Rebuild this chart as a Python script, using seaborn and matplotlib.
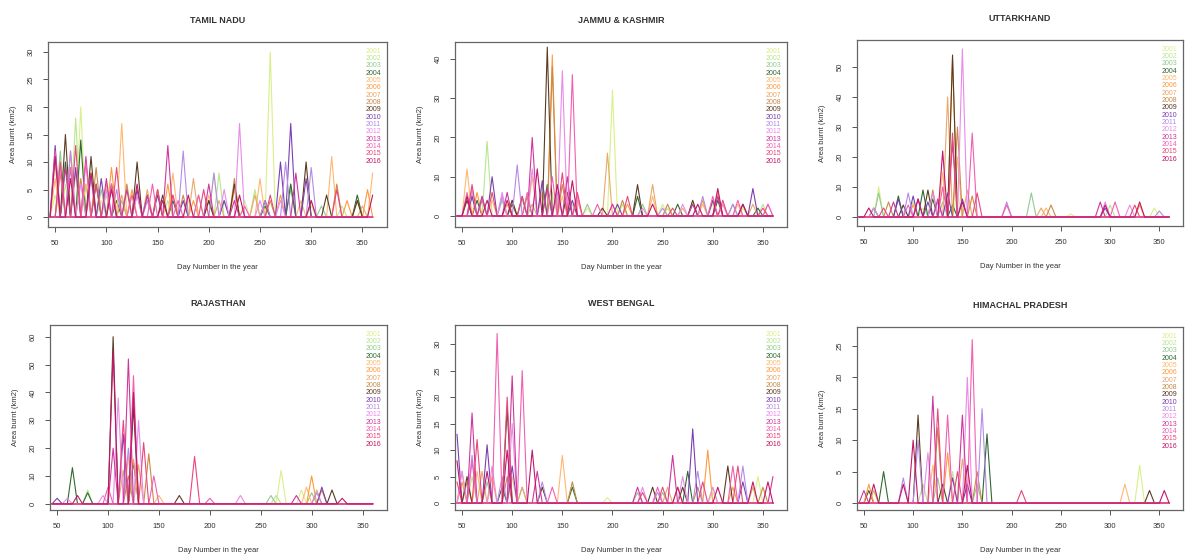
import matplotlib
matplotlib.use("Agg")
import matplotlib.pyplot as plt
import seaborn as sns
import pandas as pd

# ---------------- data ----------------
YEARS = list(range(2001, 2017))
YEAR_COLORS = ["#d8f08a", "#b9e68f", "#93c98f", "#2f6a2f",
               "#ffb870", "#ff9a3c", "#e9a868", "#c98a4a",
               "#5b3b22", "#7a3fb0", "#b58ae8", "#e98be9",
               "#d0379c", "#f25fb0", "#e8487a", "#c0186a"]
DAYS = list(range(45, 365, 5))
X_TICKS = [50, 100, 150, 200, 250, 300, 350]

TN_PEAKS = {
    2001: [(75, 20), (260, 30), (205, 8), (150, 5), (50, 4), (95, 3), (120, 5), (180, 3), (235, 3), (300, 2)],
    2002: [(70, 18), (210, 8), (280, 6), (100, 4), (60, 6), (125, 4), (160, 3), (245, 5), (330, 2)],
    2003: [(55, 12), (80, 6), (280, 5), (130, 4), (65, 9), (95, 5), (115, 3), (190, 4), (215, 3), (310, 2)],
    2004: [(75, 14), (60, 10), (280, 6), (345, 4), (110, 3), (90, 6), (140, 4), (165, 3), (200, 3), (255, 2)],
    2005: [(115, 17), (165, 8), (250, 7), (320, 11), (360, 8), (50, 7), (80, 6), (140, 3), (200, 4), (290, 3)],
    2006: [(65, 12), (105, 9), (160, 6), (225, 5), (355, 5), (85, 8), (125, 5), (185, 3), (270, 4), (335, 3)],
    2007: [(50, 10), (140, 5), (185, 7), (245, 4), (70, 8), (100, 6), (115, 4), (210, 3), (300, 3), (350, 2)],
    2008: [(55, 8), (90, 9), (120, 6), (225, 7), (325, 6), (75, 7), (150, 5), (175, 4), (260, 3), (345, 3)],
    2009: [(60, 15), (85, 11), (130, 10), (225, 6), (295, 10), (345, 3), (105, 6), (155, 4), (200, 3), (255, 3), (315, 4)],
    2010: [(50, 13), (95, 7), (280, 17), (270, 10), (175, 3), (70, 9), (130, 5), (150, 4), (215, 3), (295, 7)],
    2011: [(65, 12), (175, 12), (205, 8), (275, 10), (85, 7), (110, 5), (140, 3), (255, 3), (300, 9)],
    2012: [(55, 9), (100, 5), (230, 17), (250, 3), (75, 6), (130, 4), (165, 4), (215, 5), (270, 3)],
    2013: [(160, 13), (120, 5), (60, 9), (285, 8), (80, 11), (100, 7), (140, 4), (200, 6), (225, 3)],
    2014: [(50, 12), (80, 10), (145, 6), (190, 4), (65, 9), (105, 6), (125, 4), (170, 3), (235, 2)],
    2015: [(70, 13), (110, 9), (195, 5), (325, 5), (55, 10), (90, 6), (150, 5), (165, 4), (260, 4)],
    2016: [(50, 11), (85, 8), (130, 6), (230, 4), (360, 4), (65, 7), (105, 5), (155, 3), (180, 4), (300, 3)],
}
JK_PEAKS = {
    2001: [(200, 32), (140, 6), (55, 5), (300, 3), (100, 3), (175, 2), (250, 3), (330, 2)],
    2002: [(75, 19), (130, 8), (210, 3), (305, 5), (110, 4), (160, 3), (255, 2), (350, 3)],
    2003: [(60, 6), (175, 3), (280, 3), (90, 4), (120, 3), (230, 3), (320, 3)],
    2004: [(135, 8), (225, 5), (305, 4), (65, 4), (100, 3), (265, 3), (345, 2)],
    2005: [(55, 12), (120, 10), (240, 5), (325, 3), (80, 4), (150, 5), (200, 3), (290, 3)],
    2006: [(140, 41), (65, 6), (290, 4), (95, 3), (165, 4), (215, 3), (310, 3)],
    2007: [(195, 16), (100, 4), (240, 8), (305, 6), (60, 5), (130, 6), (270, 2), (340, 3)],
    2008: [(140, 38), (150, 8), (210, 4), (70, 4), (115, 5), (255, 3), (300, 4)],
    2009: [(135, 43), (225, 8), (155, 6), (330, 3), (55, 4), (100, 4), (190, 2), (280, 4)],
    2010: [(80, 10), (130, 9), (340, 7), (60, 5), (110, 5), (160, 4), (205, 3), (300, 4)],
    2011: [(105, 13), (90, 5), (290, 5), (70, 5), (145, 6), (250, 2), (320, 3)],
    2012: [(150, 37), (120, 12), (60, 7), (270, 3), (90, 6), (165, 5), (230, 2), (310, 3), (355, 3)],
    2013: [(120, 20), (155, 10), (95, 6), (305, 5), (70, 5), (135, 7), (200, 3), (280, 3)],
    2014: [(160, 36), (140, 10), (325, 4), (55, 6), (115, 6), (185, 3), (300, 5), (355, 3)],
    2015: [(150, 11), (60, 8), (215, 5), (350, 2), (80, 6), (110, 5), (165, 6), (260, 2), (310, 4)],
    2016: [(125, 12), (160, 9), (305, 7), (75, 4), (55, 5), (95, 4), (145, 8), (240, 3), (285, 3), (330, 3)],
}
UK_PEAKS = {
    2001: [(65, 10), (145, 8), (345, 3), (110, 3), (260, 1)],
    2002: [(100, 5), (300, 4)],
    2003: [(65, 8), (220, 8), (130, 5)],
    2004: [(85, 7), (120, 6), (140, 4), (60, 3), (110, 9)],
    2005: [(145, 20), (130, 15), (235, 3)],
    2006: [(140, 53), (100, 4), (330, 4)],
    2007: [(135, 40), (155, 9), (230, 3)],
    2008: [(120, 9), (145, 30), (160, 7), (240, 4), (75, 5)],
    2009: [(140, 54), (115, 9), (90, 4)],
    2010: [(100, 7), (135, 8), (150, 6), (295, 3), (85, 6), (115, 5)],
    2011: [(95, 8), (195, 5), (125, 5), (350, 2)],
    2012: [(150, 56), (120, 8), (295, 5), (60, 3), (320, 4)],
    2013: [(140, 25), (105, 6), (290, 5), (80, 5), (125, 6)],
    2014: [(160, 28), (130, 10), (305, 5), (95, 4), (195, 4)],
    2015: [(140, 28), (165, 8), (325, 4), (70, 3)],
    2016: [(130, 22), (55, 3), (295, 4), (330, 5), (105, 6), (150, 5)],
}
RJ_PEAKS = {
    2001: [(270, 12), (290, 5)],
    2002: [(80, 5), (265, 3)],
    2003: [(260, 3), (300, 4)],
    2004: [(65, 13), (125, 15), (80, 4)],
    2005: [(120, 17), (295, 6), (150, 3)],
    2006: [(125, 16), (300, 10)],
    2007: [(115, 12), (130, 14), (305, 5)],
    2008: [(120, 10), (140, 18), (310, 5)],
    2009: [(105, 60), (125, 35), (170, 3), (320, 5)],
    2010: [(115, 25), (310, 6), (50, 2)],
    2011: [(120, 20), (305, 4)],
    2012: [(110, 38), (130, 30), (230, 3), (60, 2), (95, 3)],
    2013: [(120, 52), (105, 20), (285, 3)],
    2014: [(125, 46), (145, 10), (100, 6), (200, 2)],
    2015: [(115, 30), (185, 17), (135, 22)],
    2016: [(105, 55), (125, 40), (70, 3), (330, 2)],
}
WB_PEAKS = {
    2001: [(345, 5), (195, 1), (300, 2)],
    2002: [(60, 5), (300, 3)],
    2003: [(75, 4), (250, 2), (110, 3), (225, 2)],
    2004: [(160, 3), (275, 6), (90, 3)],
    2005: [(150, 9), (65, 6), (100, 5), (265, 3)],
    2006: [(295, 10), (50, 4), (80, 5), (320, 3)],
    2007: [(70, 6), (340, 3), (50, 6), (110, 3), (255, 3)],
    2008: [(55, 4), (160, 4), (285, 3), (95, 5), (350, 3)],
    2009: [(95, 18), (315, 7), (240, 3), (55, 5), (130, 3), (270, 3)],
    2010: [(75, 11), (280, 14), (45, 13), (100, 7), (330, 4)],
    2011: [(130, 4), (285, 6), (330, 7), (60, 9), (90, 5), (245, 2)],
    2012: [(100, 15), (230, 3), (270, 5), (50, 6), (80, 7), (300, 3)],
    2013: [(60, 17), (100, 24), (260, 9), (360, 5), (125, 6), (225, 3)],
    2014: [(85, 32), (110, 25), (245, 3), (60, 8), (140, 3), (320, 7)],
    2015: [(65, 12), (95, 20), (325, 7), (230, 2), (45, 4), (250, 3), (290, 4)],
    2016: [(45, 8), (120, 10), (305, 3), (355, 4), (75, 6), (95, 10), (265, 3), (340, 4)],
}
HP_PEAKS = {
    2001: [(330, 6), (60, 2)],
    2002: [(140, 5), (110, 3)],
    2003: [(125, 4), (165, 3)],
    2004: [(70, 5), (175, 11), (55, 2)],
    2005: [(120, 6), (315, 3)],
    2006: [(135, 8), (55, 3)],
    2007: [(150, 7), (60, 2)],
    2008: [(125, 12), (165, 5)],
    2009: [(105, 14), (130, 3), (340, 2)],
    2010: [(140, 4), (155, 3)],
    2011: [(90, 4), (170, 15), (105, 10)],
    2012: [(155, 20), (115, 8)],
    2013: [(120, 17), (150, 14), (50, 2)],
    2014: [(160, 26), (135, 14)],
    2015: [(125, 15), (145, 5), (210, 2)],
    2016: [(100, 10), (155, 6), (355, 2), (60, 3), (90, 3)],
}

STATE_NAMES = ["TAMIL NADU", "JAMMU & KASHMIR", "UTTARKHAND",
               "RAJASTHAN", "WEST BENGAL", "HIMACHAL PRADESH"]
STATE_PEAKS = [TN_PEAKS, JK_PEAKS, UK_PEAKS, RJ_PEAKS, WB_PEAKS, HP_PEAKS]
STATE_YTICKS = [list(range(0, 31, 5)), list(range(0, 41, 10)), list(range(0, 51, 10)),
                list(range(0, 61, 10)), list(range(0, 31, 5)), list(range(0, 26, 5))]

# ---------------- layout / style ----------------
YLIMS = [(-1.8, 31.8), (-2.8, 44.3), (-3, 59), (-2.2, 64.2), (-1.3, 33.6), (-1.1, 28)]
AX_RECTS = [
    (48 / 1185, 1 - 227 / 559, 339 / 1185, 185 / 559),
    (455 / 1185, 1 - 227 / 559, 332 / 1185, 185 / 559),
    (857 / 1185, 1 - 226 / 559, 326 / 1185, 186 / 559),
    (50 / 1185, 1 - 510 / 559, 337 / 1185, 185 / 559),
    (455 / 1185, 1 - 510 / 559, 332 / 1185, 185 / 559),
    (857 / 1185, 1 - 510 / 559, 326 / 1185, 183 / 559),
]

sns.set_theme(style="white")
plt.rcParams["font.family"] = ["Liberation Sans", "DejaVu Sans"]
TXT = "#333333"

fig = plt.figure(figsize=(11.85, 5.59), dpi=100)
fig.patch.set_facecolor("white")
palette = dict(zip(YEARS, YEAR_COLORS))

for name, peaks, yticks, ylim, rect in zip(STATE_NAMES, STATE_PEAKS, STATE_YTICKS, YLIMS, AX_RECTS):
    rows = []
    for yr in YEARS:
        pk = dict(peaks.get(yr, []))
        for d in DAYS:
            rows.append({"day": d, "area": pk.get(d, 0), "year": yr})
    df = pd.DataFrame(rows)
    ax = fig.add_axes(rect)
    sns.lineplot(data=df, x="day", y="area", hue="year", palette=palette,
                 hue_order=YEARS, estimator=None, legend=False, lw=0.8, ax=ax)
    ax.set_xlim(43, 374)
    ax.set_ylim(*ylim)
    ax.set_xticks(X_TICKS)
    ax.set_yticks(yticks)
    ax.tick_params(axis="both", which="both", direction="out", length=3.5, width=0.7,
                   color="#555555", labelsize=5.5, labelcolor=TXT, bottom=True, left=True, pad=6)
    ax.tick_params(axis="y", labelrotation=90)
    for lab in ax.get_yticklabels():
        lab.set_va("center")
    for s in ax.spines.values():
        s.set_color("#666666")
        s.set_linewidth(0.9)
    ax.set_xlabel("Day Number in the year", fontsize=5.5, color=TXT, labelpad=12)
    ax.set_ylabel("Area burnt (km2)", fontsize=5.5, color=TXT, labelpad=8)
    ax.set_title(name, fontsize=6.5, fontweight="bold", color=TXT, pad=14)
    handles = [plt.Line2D([], [], color=c, lw=0) for c in YEAR_COLORS]
    ax.legend(handles, [str(y) for y in YEARS], loc="upper right",
              frameon=False, fontsize=5, labelspacing=0.05, handlelength=0,
              handletextpad=0, borderaxespad=0.4, labelcolor=YEAR_COLORS)

fig.savefig("out.png", dpi=100, facecolor="white")
